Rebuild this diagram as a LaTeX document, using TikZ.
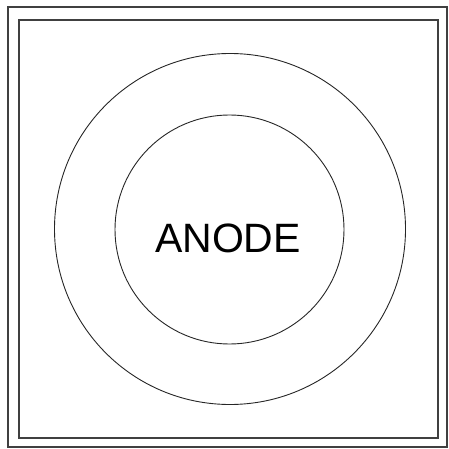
\documentclass[tikz,border=0pt]{standalone}
\usepackage{fontspec}
\setmainfont{Liberation Sans}
\begin{document}
\begin{tikzpicture}[x=1pt,y=-1pt,
  frame/.style={draw=black!75,line width=1.4pt},
  ring/.style={draw=black!85,line width=0.9pt}]
\useasboundingbox (0,0) rectangle (449,449);
\path[frame] (8,7) rectangle (447,447);
\path[frame] (19,20) rectangle (438,438);
\node[ring,circle,minimum size=351pt,inner sep=0pt] (outer) at (230,229) {};
\node[ring,circle,minimum size=229pt,inner sep=0pt] (inner) at (229.5,229.5) {};
\node[font=\fontsize{41}{41}\selectfont,inner sep=0pt] (label) at (228,238) {ANODE};
\end{tikzpicture}
\end{document}
